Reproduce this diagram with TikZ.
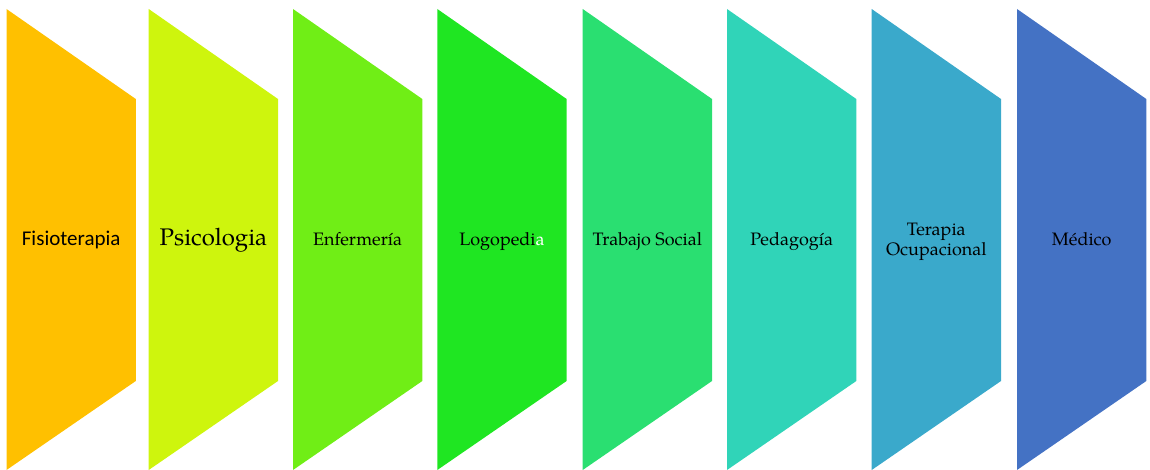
\documentclass[tikz,border=0pt]{standalone}
\usepackage{fontspec}
\setmainfont{TeX Gyre Pagella}
\newfontfamily\carlito{Carlito}
\definecolor{c1}{RGB}{255,192,0}
\definecolor{c2}{RGB}{206,245,13}
\definecolor{c3}{RGB}{112,238,22}
\definecolor{c4}{RGB}{31,230,34}
\definecolor{c5}{RGB}{42,223,113}
\definecolor{c6}{RGB}{48,212,184}
\definecolor{c7}{RGB}{58,169,203}
\definecolor{c8}{RGB}{68,114,196}
\tikzset{
  lbl/.style={text=black, font=\fontsize{18}{20}\selectfont, align=center, inner sep=0pt, anchor=base},
}
\begin{document}
\begin{tikzpicture}[x=1pt,y=-1pt]
\useasboundingbox (0,0) rectangle (1150,470);
\foreach \xl/\c in {6.5/c1,148.7/c2,293/c3,437.3/c4,582.7/c5,727/c6,871.7/c7,1017/c8}{
  \pgfmathsetmacro{\xr}{\xl+129.3}
  \fill[\c] (\xl,9) -- (\xr,99) -- (\xr,381) -- (\xl,470) -- cycle;
}
\node[lbl, font=\carlito\fontsize{21}{23}\selectfont] (n1) at (71.2,245.5) {Fisioterapia};
\node[lbl, font=\fontsize{24}{26}\selectfont] (n2) at (213.4,245.5) {Psicologia};
\node[lbl] (n3) at (357.6,245.5) {Enfermería};
\node[lbl] (n4) at (502,245.5) {Logopedi\textcolor{white}{a}};
\node[lbl] (n5) at (647.3,245.5) {Trabajo Social};
\node[lbl] (n6) at (791.7,245.5) {Pedagogía};
\node[lbl, anchor=center] (n7) at (936.3,241.5) {Terapia\\Ocupacional};
\node[lbl] (n8) at (1081.7,245.5) {Médico};
\end{tikzpicture}
\end{document}
